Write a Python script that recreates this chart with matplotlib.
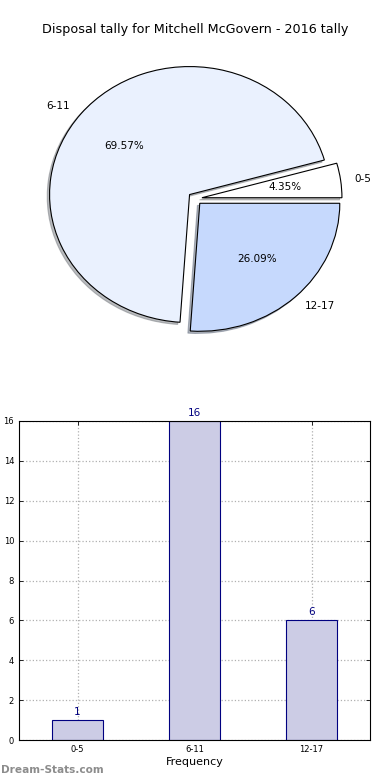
import matplotlib
matplotlib.use("Agg")
import matplotlib.pyplot as plt

# ------------------ Data ------------------

categories = ["0-5", "6-11", "12-17"]
tallies = [1, 16, 6]
pie_colors = ["#ffffff", "#eaf1fe", "#c6d9fd"]
explode = [0.05, 0.05, 0.05]

title = "Disposal tally for Mitchell McGovern - 2016 tally"

# ------------------ Figure ------------------

fig = plt.figure(figsize=(3.9, 7.8), dpi=100)
W, H = 390.0, 780.0

# pie (old-style, non-equal aspect)
ax1 = fig.add_axes([20 / W, 1 - 358.6 / H, 350 / W, 320 / H])
wedges, texts, autotexts = ax1.pie(
    tallies, labels=categories, colors=pie_colors, explode=explode,
    autopct="%.2f%%", startangle=0,
    shadow={"ox": -0.012, "oy": -0.012, "shade": 0.5},
    wedgeprops={"edgecolor": "black", "linewidth": 0.8},
    textprops={"fontsize": 7.5})
ax1.set_aspect("auto")
ax1.set_xlim(-1.25, 1.25)
ax1.set_ylim(-1.25, 1.25)

fig.text(0.5, 1 - 30 / H, title, ha="center", va="center", fontsize=9.2)

# bar chart
ax2 = fig.add_axes([19 / W, 40 / H, 351 / W, 319 / H])
x = list(range(len(categories)))
bars = ax2.bar(x, tallies, width=0.44, color="#ccccE5", edgecolor="navy",
               linewidth=0.8, zorder=2)
for xi, v in zip(x, tallies):
    ax2.text(xi, v + 0.15, str(v), ha="center", va="bottom",
             color="navy", fontsize=7.5)

ax2.set_xlim(-0.5, 2.5)
ax2.set_ylim(0, 16)
ax2.set_xticks(x)
ax2.set_xticklabels(categories)
ax2.set_yticks(range(0, 17, 2))
ax2.tick_params(labelsize=6, direction="in", length=3, top=True, right=True,
                width=0.6)
ax2.grid(True, linestyle=":", color="#b0b0b0", linewidth=0.9, zorder=0)
ax2.set_axisbelow(True)
ax2.set_xlabel("Frequency", fontsize=8, labelpad=2)
ax2.set_ylabel("Disposal Tally", fontsize=7, labelpad=9)

fig.text(0.5 / W, 1 - 770 / H, "Dream-Stats.com", ha="left", va="center",
         fontsize=7.6, color="#8c8c8c", fontweight="bold")

fig.savefig("out.png", dpi=100)
